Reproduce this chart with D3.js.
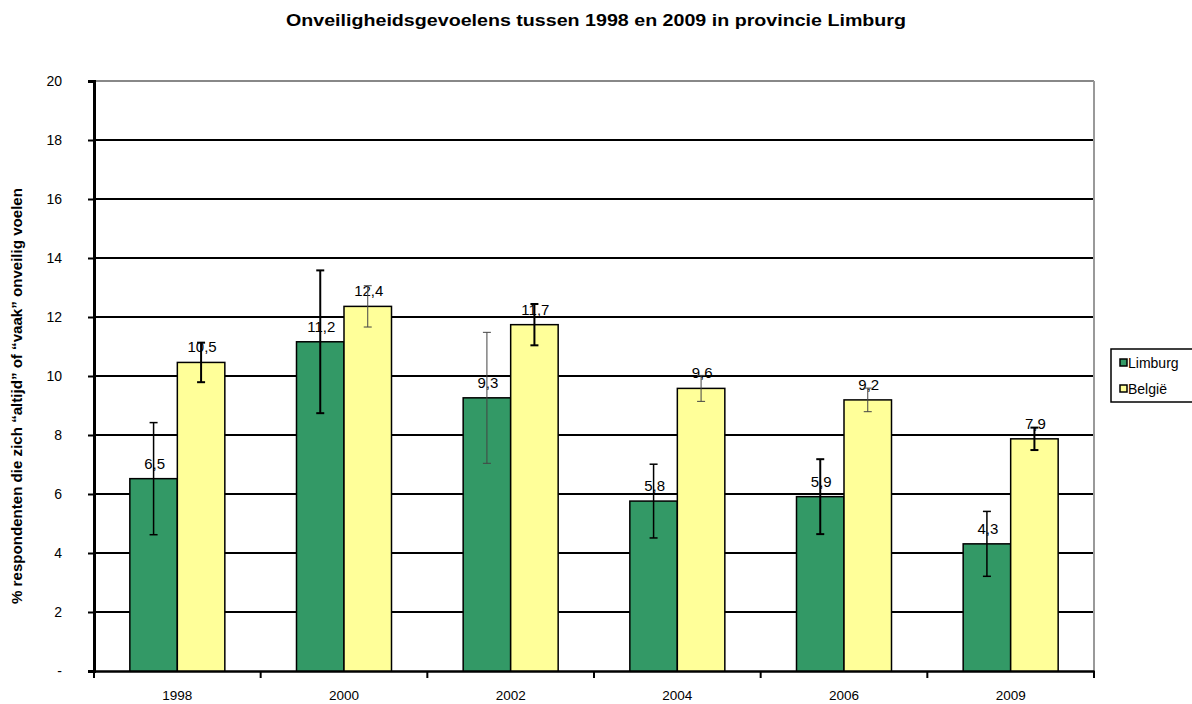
<!DOCTYPE html>
<html>
<head>
<meta charset="utf-8">
<script src="https://cdn.jsdelivr.net/npm/d3@7"></script>
<style>
  body { margin: 0; background: #fff; }
  text { font-family: "Liberation Sans", Arial, sans-serif; }
</style>
</head>
<body>
<svg width="1192" height="704"></svg>
<script>
// data
var years = ["1998", "2000", "2002", "2004", "2006", "2009"];
var seriesNames = ["Limburg", "België"];
var limburg = [6.52, 11.16, 9.26, 5.76, 5.91, 4.31];
var belgie = [10.46, 12.36, 11.74, 9.58, 9.19, 7.87];
// half-width of the error bars
var limburgErr = [1.9, 2.42, 2.22, 1.25, 1.27, 1.1];
var belgieErr = [0.67, 0.7, 0.7, 0.44, 0.4, 0.38];
var yTicks = [0, 2, 4, 6, 8, 10, 12, 14, 16, 18, 20];

// stroke weights of the error bars as they appear
var limburgErrStroke = [1.5, 2, 1, 1.5, 2, 1.5];
var belgieErrStroke = [2, 1, 2, 1, 1, 2];

var svg = d3.select("svg"),
    width = +svg.attr("width"),
    height = +svg.attr("height");

// plot area (note: "top" is reserved on window, so use m*)
var mLeft = 94, mRight = 1094, mTop = 81, mBottom = 671;
var colors = ["#339966", "#ffff99"];

var x0 = d3.scaleBand()
    .domain(years)
    .range([mLeft, mRight]);

var bw = x0.bandwidth();
var x1 = d3.scaleBand()
    .domain(seriesNames)
    .range([bw * 0.215, bw * 0.785]);

var y = d3.scaleLinear()
    .domain([0, 20])
    .range([mBottom, mTop]);

// title
svg.append("text")
    .attr("x", 596)
    .attr("y", 26)
    .attr("text-anchor", "middle")
    .attr("textLength", 620)
    .attr("lengthAdjust", "spacingAndGlyphs")
    .style("font-size", "17px")
    .style("font-weight", "bold")
    .text("Onveiligheidsgevoelens tussen 1998 en 2009 in provincie Limburg");

// gridlines
svg.append("g")
  .selectAll("line")
  .data(yTicks.filter(function(d){ return d > 0 }))
  .enter()
  .append("line")
    .attr("x1", mLeft)
    .attr("x2", mRight)
    .attr("y1", function(d){ return y(d) })
    .attr("y2", function(d){ return y(d) })
    .attr("stroke", function(d){ return d == 20 ? "#888" : "#000" })
    .attr("stroke-width", 2);

// right border
svg.append("line")
    .attr("x1", mRight).attr("x2", mRight)
    .attr("y1", mTop).attr("y2", mBottom)
    .attr("stroke", "#999")
    .attr("stroke-width", 2);

// y axis
var yAxis = svg.append("g")
    .attr("transform", "translate(" + mLeft + ",0)")
    .call(d3.axisLeft(y)
      .tickValues(yTicks)
      .tickSize(6)
      .tickPadding(26)
      .tickFormat(function(d){ return d == 0 ? "-" : d }));
yAxis.select(".domain").attr("stroke", "#000").attr("stroke-width", 3);
yAxis.selectAll(".tick line").attr("stroke", "#000").attr("stroke-width", 2);
yAxis.selectAll(".tick text")
    .style("font-size", "14px")
    .attr("fill", "#000");

// x axis
var xAxis = svg.append("g")
    .attr("transform", "translate(0," + mBottom + ")")
    .call(d3.axisBottom(x0).tickSize(0).tickPadding(19));
xAxis.select(".domain").attr("stroke", "#000").attr("stroke-width", 2.5);
xAxis.selectAll(".tick text").style("font-size", "13.5px").attr("fill", "#000");

// x tick marks at the group boundaries
svg.append("g")
  .selectAll("line")
  .data(years.concat(["end"]))
  .enter()
  .append("line")
    .attr("x1", function(d, i){ return mLeft + i * bw })
    .attr("x2", function(d, i){ return mLeft + i * bw })
    .attr("y1", mBottom)
    .attr("y2", mBottom + 7)
    .attr("stroke", "#000")
    .attr("stroke-width", 2);

// y axis title
svg.append("text")
    .attr("transform", "translate(22,396) rotate(-90)")
    .attr("text-anchor", "middle")
    .attr("textLength", 416)
    .attr("lengthAdjust", "spacingAndGlyphs")
    .style("font-size", "14.5px")
    .style("font-weight", "bold")
    .text("% respondenten die zich \u201caltijd\u201d of \u201cvaak\u201d onveilig voelen");

var rows = years.map(function(yr, i) {
  return [
    {year: yr, s: seriesNames[0], v: limburg[i], e: limburgErr[i], sw: limburgErrStroke[i], c: colors[0]},
    {year: yr, s: seriesNames[1], v: belgie[i], e: belgieErr[i], sw: belgieErrStroke[i], c: colors[1]}
  ];
});

var groups = svg.append("g")
  .selectAll("g")
  .data(rows)
  .enter()
  .append("g")
    .attr("transform", function(d){ return "translate(" + x0(d[0].year) + ",0)" });

var bars = groups.selectAll("g")
  .data(function(d){ return d })
  .enter()
  .append("g");

bars.append("rect")
    .attr("x", function(d){ return x1(d.s) })
    .attr("y", function(d){ return y(d.v) })
    .attr("width", x1.bandwidth())
    .attr("height", function(d){ return y(0) - y(d.v) })
    .attr("fill", function(d){ return d.c })
    .attr("stroke", "#000")
    .attr("stroke-width", 1.5);

// value labels
bars.append("text")
    .attr("x", function(d){ return x1(d.s) + x1.bandwidth() / 2 + 1 })
    .attr("y", function(d){ return y(d.v) - 10 })
    .attr("text-anchor", "middle")
    .style("font-size", "15px")
    .text(function(d){ return d3.format(".1f")(d.v).replace(".", ",") });

// error bars
bars.each(function(d) {
  var g = d3.select(this);
  var cx = x1(d.s) + x1.bandwidth() / 2;
  var col = d.sw < 1.5 ? "#444" : "#000";
  g.append("line")
      .attr("x1", cx).attr("x2", cx)
      .attr("y1", y(d.v + d.e)).attr("y2", y(d.v - d.e))
      .attr("stroke", col).attr("stroke-width", d.sw);
  [d.v + d.e, d.v - d.e].forEach(function(val) {
    g.append("line")
        .attr("x1", cx - 4).attr("x2", cx + 4)
        .attr("y1", y(val)).attr("y2", y(val))
        .attr("stroke", col).attr("stroke-width", d.sw);
  });
});

// legend
var legend = svg.append("g").attr("transform", "translate(1111,349)");
legend.append("rect")
    .attr("width", 95)
    .attr("height", 53)
    .attr("fill", "#fff")
    .attr("stroke", "#000")
    .attr("stroke-width", 1.5);
seriesNames.forEach(function(name, i) {
  legend.append("rect")
      .attr("x", 9)
      .attr("y", 10 + i * 26)
      .attr("width", 7)
      .attr("height", 7)
      .attr("fill", colors[i])
      .attr("stroke", "#000")
      .attr("stroke-width", 1.5);
  legend.append("text")
      .attr("x", 17)
      .attr("y", 19 + i * 26)
      .style("font-size", "14px")
      .text(name);
});
</script>
</body>
</html>
